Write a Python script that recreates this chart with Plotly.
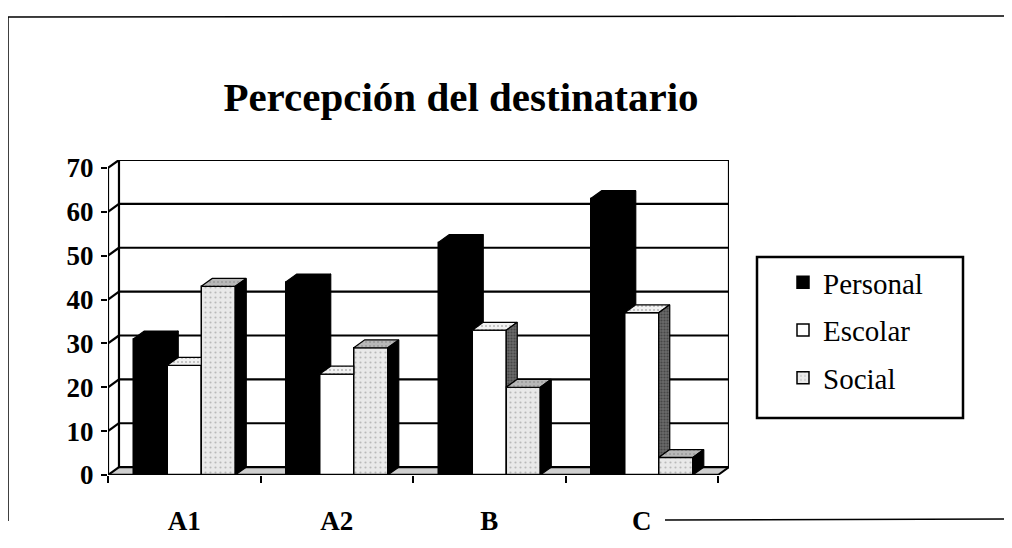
import plotly.graph_objects as go

# ---------------- data ----------------
categories = ["A1", "A2", "B", "C"]
series_names = ["Personal", "Escolar", "Social"]
personal = [31, 44, 53, 63]
escolar = [25, 23, 33, 37]
social = [43, 29, 20, 4]
y_ticks = [0, 10, 20, 30, 40, 50, 60, 70]

# ---------------- style ----------------
series_values = [personal, escolar, social]
front_colors = ["#000000", "#ffffff", "#e9e9e9"]
top_colors = ["#000000", "#f2f2f2", "#b8b8b8"]
side_colors = ["#000000", "#6a6a6a", "#000000"]
SERIF = "Liberation Serif, Times New Roman, serif"

W = 0.223          # bar width (category units)
DX = 0.072         # depth offset in x (category units)
DY = 1.8           # depth offset in y (value units)
YMAX = 70
XMIN, XMAX = -0.5, len(categories) - 0.5
positions = list(range(len(categories)))
n = len(series_names)
offsets = [-n * W / 2 + k * W for k in range(n)]

# page body adds an 8px margin; compensate so the picture lands where intended
OFF = 8

fig = go.Figure()

# front faces: real bars
for k, name in enumerate(series_names):
    pattern = dict(shape=".", fgcolor="#8a8a8a", bgcolor=front_colors[k], size=5, solidity=0.15) if k == 2 else None
    fig.add_trace(go.Bar(
        name=name, x=positions, y=series_values[k], width=W, offset=offsets[k],
        marker=dict(color=front_colors[k], line=dict(color="black", width=1.5),
                    pattern=pattern),
        legendgroup=name,
    ))

# 3-D top and side faces computed from the same data
for k in range(n):
    tx, ty, sx, sy = [], [], [], []
    for i, p in enumerate(positions):
        v = series_values[k][i]
        L = p + offsets[k]
        R = L + W
        nxt = series_values[k + 1][i] if k + 1 < n else None
        if nxt is not None and nxt > v:
            tx += [L, L + DX, R, R, L, None]
            ty += [v, v + DY, v + DY, v, v, None]
        else:
            tx += [L, L + DX, R + DX, R, L, None]
            ty += [v, v + DY, v + DY, v, v, None]
        if nxt is None:
            sx += [R, R, R + DX, R + DX, R, None]
            sy += [0, v, v + DY, DY, 0, None]
        elif nxt < v:
            sx += [R, R, R + DX, R + DX, R, None]
            sy += [nxt, v, v + DY, nxt + DY, nxt, None]
    tpat = dict(shape=".", fgcolor="#7a7a7a", bgcolor=top_colors[k], size=4, solidity=0.2) if k > 0 else None
    fig.add_trace(go.Scatter(x=tx, y=ty, mode="lines", fill="toself", fillcolor=top_colors[k],
                             fillpattern=tpat,
                             line=dict(color="black", width=1.2), showlegend=False, hoverinfo="skip"))
    spat = dict(shape=".", fgcolor="#222222", bgcolor=side_colors[k], size=3, solidity=0.4) if k == 1 else None
    fig.add_trace(go.Scatter(x=sx, y=sy, mode="lines", fill="toself", fillcolor=side_colors[k],
                             fillpattern=spat,
                             line=dict(color="black", width=1.2), showlegend=False, hoverinfo="skip"))

# ---------------- walls, floor and gridlines (below traces) ----------------
shapes = []
LW = 2.2
shapes.append(dict(type="path", xref="x", yref="y", layer="below",
                   path=f"M{XMIN},0 L{XMAX},0 L{XMAX+DX},{DY} L{XMIN+DX},{DY} Z",
                   fillcolor="#cfcfcf", line=dict(color="black", width=1)))
for t in y_ticks:
    shapes.append(dict(type="line", xref="x", yref="y", layer="below",
                       x0=XMIN + DX, x1=XMAX + DX, y0=t + DY, y1=t + DY,
                       line=dict(color="black", width=LW)))
    shapes.append(dict(type="line", xref="x", yref="y", layer="below",
                       x0=XMIN, x1=XMIN + DX, y0=t, y1=t + DY,
                       line=dict(color="black", width=LW)))
for xx in (XMIN + DX, XMAX + DX):
    shapes.append(dict(type="line", xref="x", yref="y", layer="below",
                       x0=xx, x1=xx, y0=DY, y1=YMAX + DY, line=dict(color="black", width=LW)))
shapes.append(dict(type="line", xref="x", yref="y", layer="above",
                   x0=XMIN, x1=XMIN, y0=0, y1=YMAX, line=dict(color="black", width=LW)))
shapes.append(dict(type="line", xref="x", yref="y", layer="above",
                   x0=XMIN, x1=XMAX, y0=0, y1=0, line=dict(color="black", width=2.5)))
shapes.append(dict(type="line", xref="x", yref="y", layer="above",
                   x0=XMAX, x1=XMAX + DX, y0=0, y1=DY, line=dict(color="black", width=2)))

# outer frame and legend box (paper coordinates from target pixel positions)
PL, PW, PT, PH = 108 - OFF, 621, 160 - OFF, 315
def px(xp):
    return (xp - OFF - PL) / PW
def py(yp):
    return (PT + PH - (yp - OFF)) / PH
shapes += [
    dict(type="line", xref="paper", yref="paper", x0=px(8), x1=px(1020), y0=py(17), y1=py(16),
         line=dict(color="black", width=1.5)),
    dict(type="line", xref="paper", yref="paper", x0=px(8), x1=px(8), y0=py(17), y1=py(521),
         line=dict(color="black", width=1.5)),
    dict(type="line", xref="paper", yref="paper", x0=px(665), x1=px(1020), y0=py(520), y1=py(519),
         line=dict(color="black", width=1.5)),
    dict(type="rect", xref="paper", yref="paper", x0=px(757), x1=px(963), y0=py(418), y1=py(257),
         line=dict(color="black", width=2.5), fillcolor="white", layer="below"),
]

fig.update_layout(
    width=1012, height=548,
    margin=dict(l=PL, r=1012 - PL - PW, t=PT, b=548 - PT - PH),
    paper_bgcolor="white", plot_bgcolor="white",
    barmode="overlay",
    shapes=shapes,
    title=dict(text="Percepción del destinatario", x=(461 - OFF) / 1012, xref="container", xanchor="center",
               y=1 - (97 - OFF) / 548, yref="container", yanchor="middle",
               font=dict(family=SERIF, size=41, color="black", weight="bold")),
    xaxis=dict(range=[XMIN, XMAX + DX], tickvals=positions, ticktext=categories,
               showgrid=False, zeroline=False, showline=False, ticks="",
               tickfont=dict(family=SERIF, size=27, color="black", weight="bold"),
               ticklabelstandoff=27,
               minor=dict(tickvals=[XMIN + j for j in range(len(categories) + 1)], ticks="outside",
                          ticklen=7, tickwidth=2, tickcolor="black", showgrid=False)),
    yaxis=dict(range=[0, YMAX + DY], tickvals=y_ticks, showgrid=False, zeroline=False, showline=False,
               ticks="outside", ticklen=6, tickwidth=2, tickcolor="black",
               tickfont=dict(family=SERIF, size=27, color="black", weight="bold"),
               ticklabelstandoff=2),
    legend=dict(x=px(783), y=py(257), xanchor="left", yanchor="top", bgcolor="rgba(0,0,0,0)",
                borderwidth=0, font=dict(family=SERIF, size=29, color="black"),
                tracegroupgap=7, itemclick=False),
    showlegend=True,
)

fig.write_html("out.html")
